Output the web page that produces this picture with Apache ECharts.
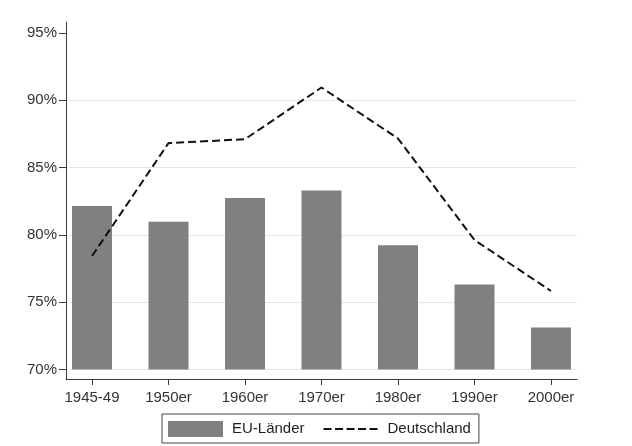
<!DOCTYPE html>
<html>
<head>
<meta charset="utf-8">
<script src="https://cdn.jsdelivr.net/npm/echarts@6/dist/echarts.min.js"></script>
<style>
html,body{margin:0;padding:0;background:#fff;}
#chart{width:632px;height:446px;}
</style>
</head>
<body>
<div id="chart"></div>
<script>
var categories = ['1945-49', '1950er', '1960er', '1970er', '1980er', '1990er', '2000er'];
var euValues = [82.15, 80.98, 82.75, 83.29, 79.23, 76.32, 73.12];
var deValues = [78.43, 86.82, 87.11, 90.95, 87.16, 79.62, 75.83];
var yTicks = [70, 75, 80, 85, 90, 95];
var gridTicks = [70, 75, 80, 85, 90];
var seriesNames = ['EU-Länder', 'Deutschland'];

var font = '"Liberation Sans", Arial, sans-serif';
var catIdx = categories.map(function (c, i) { return i; });

var chart = echarts.init(document.getElementById('chart'), null, {renderer: 'canvas'});
chart.setOption({
  animation: false,
  backgroundColor: '#ffffff',
  textStyle: {fontFamily: font},
  grid: {left: 66, right: 55, top: 22, bottom: 67, outerBoundsMode: 'none'},
  xAxis: {
    type: 'value', min: -0.34, max: 6.34,
    axisLine: {show: true, onZero: false, lineStyle: {color: '#3a3a3a', width: 1}},
    axisTick: {show: true, length: 6, customValues: catIdx, lineStyle: {color: '#3a3a3a'}},
    axisLabel: {customValues: catIdx, margin: 11, fontSize: 15, color: '#333', fontFamily: font,
      formatter: function (v) { return categories[Math.round(v)]; }},
    splitLine: {show: false}
  },
  yAxis: [{
    type: 'value', min: 69.29, max: 95.82, startValue: 70,
    axisLine: {show: true, onZero: false, lineStyle: {color: '#3a3a3a', width: 1}},
    axisTick: {show: true, length: 7, customValues: yTicks, lineStyle: {color: '#3a3a3a'}},
    axisLabel: {customValues: yTicks, margin: 9, fontSize: 15, color: '#333', fontFamily: font,
      formatter: function (v) { return Math.round(v) + '%'; }},
    splitLine: {show: false}
  }, {
    type: 'value', min: 69.29, max: 95.82, position: 'left',
    axisLine: {show: false, onZero: false},
    axisTick: {show: false, customValues: gridTicks},
    axisLabel: {show: false, customValues: gridTicks},
    splitLine: {show: true, lineStyle: {color: '#e6e6e6', width: 1}}
  }],
  legend: {
    data: [
      {name: seriesNames[0], icon: 'rect'},
      {name: seriesNames[1], itemStyle: {color: 'rgba(0,0,0,0)', borderWidth: 0, opacity: 0},
        lineStyle: {type: [8, 3.5], width: 2, color: '#111'}}
    ],
    left: 162, top: 414,
    padding: [7, 8, 6, 6],
    itemWidth: 55, itemHeight: 16, itemGap: 18,
    borderColor: '#444', borderWidth: 1, backgroundColor: '#fff',
    textStyle: {fontSize: 15, color: '#222', fontFamily: font, padding: [0, 0, 0, 4]}
  },
  series: [{
    name: seriesNames[0], type: 'bar', yAxisIndex: 0,
    data: euValues.map(function (v, i) { return [i, v]; }),
    barWidth: 40,
    itemStyle: {color: '#808080'}
  }, {
    name: seriesNames[1], type: 'line', yAxisIndex: 0,
    data: deValues.map(function (v, i) { return [i, v]; }),
    symbol: 'none',
    lineStyle: {color: '#111', width: 2, type: [8, 4]},
    itemStyle: {color: '#111'}
  }]
});
</script>
</body>
</html>
